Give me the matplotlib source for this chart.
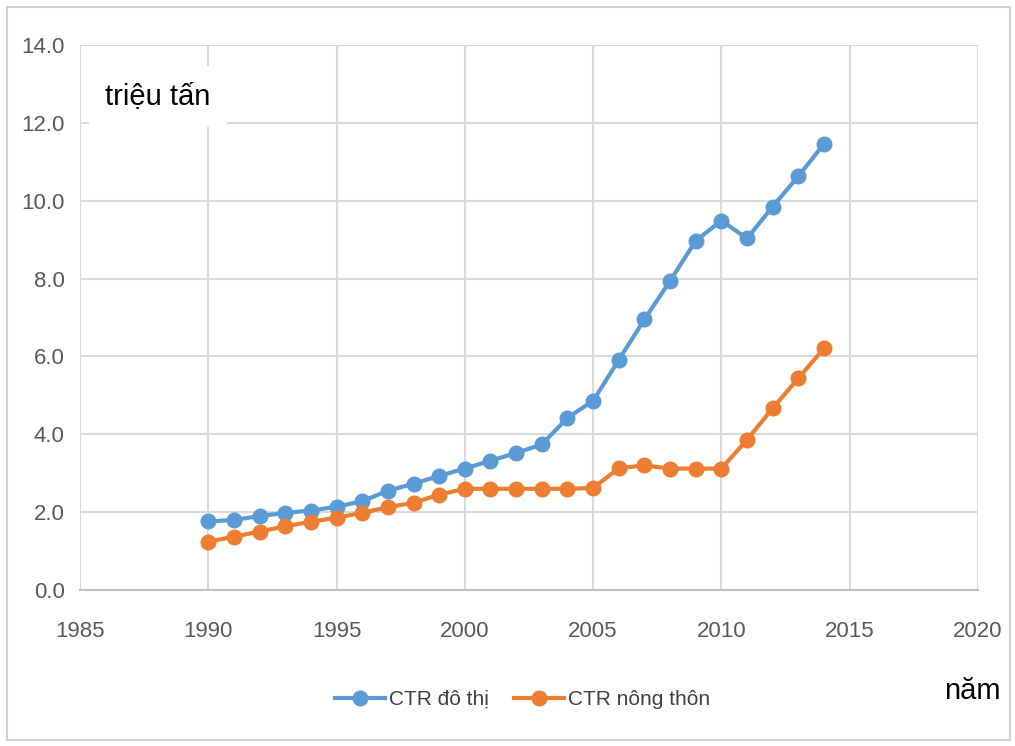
import matplotlib.pyplot as plt
from matplotlib.patches import Rectangle
from matplotlib import font_manager

# data
years = list(range(1990, 2015))
do_thi = [1.76, 1.80, 1.90, 1.98, 2.04, 2.14, 2.28, 2.55, 2.73, 2.93, 3.12,
          3.32, 3.52, 3.74, 4.42, 4.86, 5.91, 6.95, 7.94, 8.97, 9.49,
          9.03, 9.85, 10.63, 11.46]
nong_thon = [1.24, 1.37, 1.50, 1.64, 1.75, 1.86, 1.98, 2.13, 2.24, 2.45, 2.60,
             2.60, 2.60, 2.60, 2.60, 2.62, 3.13, 3.20, 3.12, 3.12, 3.12,
             3.86, 4.67, 5.44, 6.21]
x_ticks = [1985, 1990, 1995, 2000, 2005, 2010, 2015, 2020]
y_ticks = [0, 2, 4, 6, 8, 10, 12, 14]

names = {f.name for f in font_manager.fontManager.ttflist}
fam = ['Liberation Sans Narrow', 'DejaVu Sans'] if 'Liberation Sans Narrow' in names else ['Liberation Sans', 'DejaVu Sans']
plt.rcParams['font.family'] = fam

fig = plt.figure(figsize=(10.15, 7.46), dpi=100)
ax = fig.add_axes([0.0788, 0.2091, 0.8847, 0.7306])

blue = '#5B9BD5'
orange = '#ED7D31'
ax.plot(years, do_thi, color=blue, lw=3, marker='o', ms=10.5, label='CTR đô thị')
ax.plot(years, nong_thon, color=orange, lw=3, marker='o', ms=10.5, label='CTR nông thôn')

ax.set_xlim(1985, 2020)
ax.set_ylim(0, 14)
ax.set_xticks(x_ticks)
ax.set_yticks(y_ticks)
ax.set_yticklabels(['%.1f' % v for v in y_ticks])
ax.tick_params(length=0, labelsize=16, labelcolor='#595959')
ax.tick_params(axis='x', pad=22)
ax.tick_params(axis='y', pad=11)
ax.grid(True, color='#d9d9d9', lw=1.5)
ax.set_axisbelow(True)
for s in ['left', 'right', 'top']:
    ax.spines[s].set_visible(False)
ax.spines['bottom'].set_color('#bfbfbf')
ax.spines['bottom'].set_linewidth(1.5)

# unit label in a white box
ax.text(0.028, 0.906, 'triệu tấn', transform=ax.transAxes, fontsize=21, color='black',
        va='center', ha='left',
        bbox=dict(facecolor='white', edgecolor='none', pad=12), zorder=5)

fig.legend(loc='center', bbox_to_anchor=(0.515, 0.062), ncol=2, frameon=False,
           fontsize=15, handlelength=2.4, handletextpad=0.2, columnspacing=1.2,
           labelcolor='#404040')
fig.text(0.986, 0.074, 'năm', fontsize=21, ha='right', va='center')

# outer frame
fig.patches.append(Rectangle((0.007, 0.008), 0.988, 0.983, transform=fig.transFigure,
                             fill=False, edgecolor='#d0d0d0', lw=1.5))

fig.savefig('out.png', dpi=100)
